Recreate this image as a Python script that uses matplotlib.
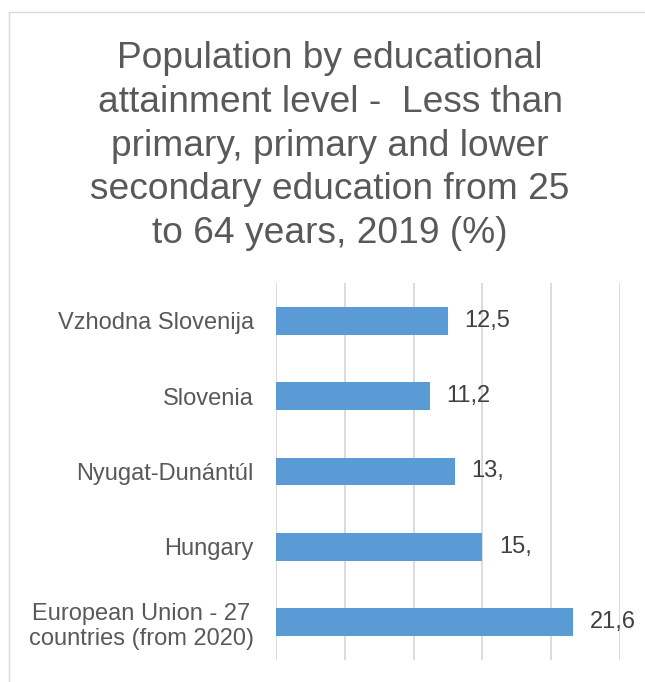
import matplotlib
matplotlib.use("Agg")
import matplotlib.pyplot as plt
from matplotlib.patches import Rectangle

plt.rcParams['font.family'] = ['Liberation Sans', 'DejaVu Sans']

# data
categories = ['Vzhodna Slovenija', 'Slovenia', 'Nyugat-Dunántúl', 'Hungary',
              'European Union - 27\ncountries (from 2020)']
values = [12.5, 11.2, 13.0, 15.0, 21.6]
value_labels = ['12,5', '11,2', '13,', '15,', '21,6']
title = ('Population by educational\nattainment level -  Less than\n'
         'primary, primary and lower\nsecondary education from 25\n'
         'to 64 years, 2019 (%)')

W, H = 645, 682
fig = plt.figure(figsize=(W / 100, H / 100), dpi=100)

# light frame around the chart area (left and top visible)
fig.patches.append(Rectangle((9 / W, -0.1), 1.0, (H - 12) / H + 0.1,
                             transform=fig.transFigure, fill=False,
                             edgecolor='#d9d9d9', linewidth=1.0))

fig.text(330 / W, 1 - 146 / H, title, ha='center', va='center', fontsize=26.7,
         color='#595959', linespacing=1.33)

ax = fig.add_axes([276 / W, 1 - 660 / H, (620 - 276) / W, (660 - 283) / H])
y = list(range(len(categories)))
ax.barh(y, values, height=0.37, color='#5b9bd5', zorder=3)
ax.set_ylim(len(categories) - 0.5, -0.5)
ax.set_xlim(0, 25)
ax.set_xticks([0, 5, 10, 15, 20, 25])
ax.set_xticklabels([])
ax.tick_params(axis='x', length=0)
ax.tick_params(axis='y', length=0, pad=16)
ax.set_yticks(y)
ax.set_yticklabels(categories, fontsize=17, color='#595959')
for lab in ax.get_yticklabels():
    lab.set_multialignment('center')
ax.grid(axis='x', color='#d9d9d9', linewidth=1.3, zorder=0)
for s in ax.spines.values():
    s.set_visible(False)

for yi, v, lab in zip(y, values, value_labels):
    ax.text(v + 1.2, yi, lab, va='center', ha='left', fontsize=17,
            color='#404040')

fig.savefig('out.png', dpi=100)
